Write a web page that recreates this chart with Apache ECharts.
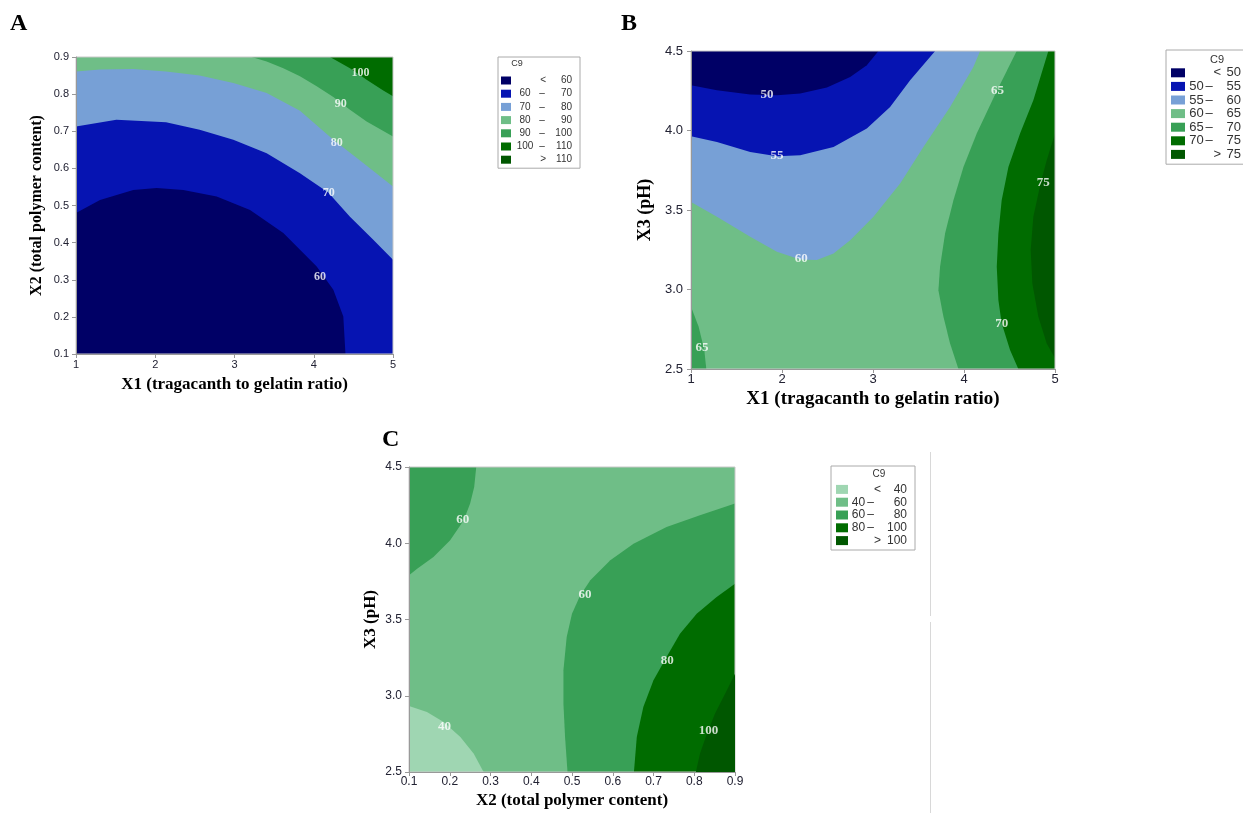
<!DOCTYPE html>
<html><head><meta charset="utf-8">
<script src="https://cdn.jsdelivr.net/npm/echarts/dist/echarts.min.js"></script>
<style>html,body{margin:0;padding:0;background:#fff}#c{width:1243px;height:813px}</style>
</head><body><div id="c"></div>
<script>
// ---------------- DATA ----------------
// Panel A : X1 vs X2
const A_X_RANGE = [1, 5], A_X_STEP = 1;
const A_Y_RANGE = [0.1, 0.9], A_Y_STEP = 0.1;
const A_LEVELS = ['< 60', '60 – 70', '70 – 80', '80 – 90', '90 – 100', '100 – 110', '> 110'];
const A_B60 = [[1,0.48],[1.303,0.515],[1.723,0.542],[2.018,0.547],[2.354,0.542],[2.775,0.524],[3.196,0.488],[3.616,0.426],[4.037,0.336],[4.247,0.273],[4.373,0.201],[4.40,0.1]];
const A_B70 = [[1,0.713],[1.51,0.731],[2.136,0.724],[2.56,0.704],[2.985,0.677],[3.406,0.641],[3.826,0.587],[4.183,0.535],[4.457,0.47],[4.751,0.408],[5,0.354]];
const A_B80 = [[1,0.861],[1.303,0.866],[1.723,0.868],[2.136,0.861],[2.56,0.85],[2.985,0.83],[3.406,0.803],[3.826,0.755],[4.247,0.677],[4.58,0.622],[5,0.551]];
const A_B90 = [[3.216,0.9],[3.406,0.888],[3.616,0.87],[3.826,0.848],[4.037,0.821],[4.247,0.792],[4.457,0.758],[4.667,0.726],[5,0.686]];
const A_B100 = [[4.205,0.9],[4.457,0.87],[4.667,0.839],[4.877,0.81],[5,0.794]];
const A_LABELS = [[4.59,0.857,100],[4.34,0.773,90],[4.29,0.668,80],[4.19,0.535,70],[4.08,0.309,60]];

// Panel B : X1 vs X3
const B_X_RANGE = [1, 5], B_X_STEP = 1;
const B_Y_RANGE = [2.5, 4.5], B_Y_STEP = 0.5;
const B_LEVELS = ['< 50', '50 – 55', '55 – 60', '60 – 65', '65 – 70', '70 – 75', '> 75'];
const B_B50 = [[1,4.284],[1.285,4.253],[1.651,4.226],[1.944,4.221],[2.2,4.232],[2.493,4.27],[2.749,4.337],[2.932,4.41],[3.06,4.5]];
const B_B55 = [[1,3.964],[1.285,3.928],[1.651,3.865],[1.944,3.838],[2.2,3.844],[2.566,3.897],[2.932,4.012],[3.188,4.148],[3.408,4.316],[3.683,4.5]];
const B_B60 = [[1,3.551],[1.285,3.457],[1.651,3.331],[1.944,3.237],[2.2,3.189],[2.383,3.185],[2.566,3.227],[2.749,3.31],[3.005,3.457],[3.298,3.666],[3.554,3.897],[3.847,4.148],[4.103,4.4],[4.177,4.5]];
const B_B65R = [[4.579,4.5],[4.36,4.249],[4.14,3.981],[3.994,3.771],[3.884,3.562],[3.792,3.352],[3.737,3.143],[3.719,2.996],[3.774,2.829],[3.847,2.661],[3.939,2.5]];
const B_B70 = [[4.927,4.5],[4.762,4.19],[4.616,3.981],[4.488,3.771],[4.414,3.562],[4.378,3.352],[4.36,3.143],[4.378,2.933],[4.414,2.787],[4.506,2.619],[4.597,2.5]];
const B_B75 = [[5,3.981],[4.909,3.813],[4.843,3.671],[4.762,3.457],[4.733,3.248],[4.751,3.038],[4.817,2.829],[4.909,2.661],[5,2.567]];
const B_B65L = [[1,2.892],[1.084,2.766],[1.146,2.619],[1.168,2.5]];
const B_LABELS = [[1.834,4.226,50],[1.944,3.84,55],[2.211,3.195,60],[4.367,4.249,65],[4.87,3.671,75],[4.414,2.783,70],[1.121,2.634,65]];

// Panel C : X2 vs X3
const C_X_RANGE = [0.1, 0.9], C_X_STEP = 0.1;
const C_Y_RANGE = [2.5, 4.5], C_Y_STEP = 0.5;
const C_LEVELS = ['< 40', '40 – 60', '60 – 80', '80 – 100', '> 100'];
const C_BTL = [[0.265,4.5],[0.26,4.369],[0.25,4.26],[0.234,4.15],[0.201,4.019],[0.16,3.91],[0.12,3.833],[0.1,3.79]];
const C_BBL = [[0.1,2.933],[0.144,2.893],[0.185,2.828],[0.226,2.73],[0.259,2.62],[0.283,2.5]];
const C_B60 = [[0.9,4.26],[0.814,4.183],[0.732,4.107],[0.651,3.997],[0.594,3.888],[0.545,3.757],[0.52,3.658],[0.5,3.538],[0.487,3.385],[0.479,3.167],[0.479,2.948],[0.483,2.73],[0.489,2.5]];
const C_B80 = [[0.9,3.735],[0.855,3.648],[0.806,3.538],[0.765,3.407],[0.732,3.254],[0.7,3.101],[0.675,2.926],[0.659,2.73],[0.652,2.5]];
const C_B100 = [[0.9,3.145],[0.876,3.014],[0.851,2.883],[0.831,2.751],[0.814,2.62],[0.804,2.5]];
const C_LABELS = [[0.232,4.155,60],[0.532,3.665,60],[0.734,3.228,80],[0.187,2.795,40],[0.835,2.773,100]];

// ---------------- STYLE ----------------
const COL = {
  navy: '#000066', blue: '#0614b2', lblue: '#77a0d6', lgreen: '#6fbe87',
  mgreen: '#38a056', dgreen: '#006c00', ddgreen: '#005700', pale: '#9fd6b2'
};
const SANS = '"Liberation Sans", Arial, sans-serif';
const SERIF = '"Liberation Serif", "Times New Roman", serif';

function rect(xr, yr) { return [[xr[0], yr[0]], [xr[1], yr[0]], [xr[1], yr[1]], [xr[0], yr[1]]]; }

let zc = 2;
function polySeries(name, color, polys, gi) {
  return {
    type: 'custom', name, xAxisIndex: gi, yAxisIndex: gi, z: zc++,
    clip: true, silent: true, animation: false,
    itemStyle: { color },
    encode: { x: 0, y: 1 },
    dimensions: ['x', 'y', 'poly'],
    data: polys.flatMap((pts, k) => pts.map(p => [p[0], p[1], k])),
    renderItem: (params, api) => {
      const i = params.dataIndexInside;
      const id = api.value(2, i);
      if (i > 0 && api.value(2, i - 1) === id) return null;
      const points = [];
      for (let j = i; j < params.dataInsideLength && api.value(2, j) === id; j++) {
        points.push(api.coord([api.value(0, j), api.value(1, j)]));
      }
      return { type: 'polygon', shape: { points }, style: { fill: color } };
    }
  };
}

function labelSeries(data, gi, size) {
  return {
    type: 'scatter', xAxisIndex: gi, yAxisIndex: gi, z: 40, silent: true,
    symbolSize: 0, data,
    label: {
      show: true, position: 'inside', formatter: p => String(p.value[2]),
      color: '#fff', fontFamily: SERIF, fontWeight: 'bold', fontSize: size
    }
  };
}

const series = [
  // A
  polySeries(A_LEVELS[0], COL.navy, [rect(A_X_RANGE, A_Y_RANGE)], 0),
  polySeries(A_LEVELS[1], COL.blue, [[...A_B60, [A_X_RANGE[1], A_Y_RANGE[0]], [A_X_RANGE[1], A_Y_RANGE[1]], [A_X_RANGE[0], A_Y_RANGE[1]]]], 0),
  polySeries(A_LEVELS[2], COL.lblue, [[...A_B70, [A_X_RANGE[1], A_Y_RANGE[1]], [A_X_RANGE[0], A_Y_RANGE[1]]]], 0),
  polySeries(A_LEVELS[3], COL.lgreen, [[...A_B80, [A_X_RANGE[1], A_Y_RANGE[1]], [A_X_RANGE[0], A_Y_RANGE[1]]]], 0),
  polySeries(A_LEVELS[4], COL.mgreen, [[...A_B90, [A_X_RANGE[1], A_Y_RANGE[1]]]], 0),
  polySeries(A_LEVELS[5], COL.dgreen, [[...A_B100, [A_X_RANGE[1], A_Y_RANGE[1]]]], 0),
  polySeries(A_LEVELS[6], COL.ddgreen, [], 0),
  labelSeries(A_LABELS, 0, 12),
  // B
  polySeries(B_LEVELS[3], COL.lgreen, [rect(B_X_RANGE, B_Y_RANGE)], 1),
  polySeries(B_LEVELS[2], COL.lblue, [[[B_X_RANGE[0], B_Y_RANGE[1]], ...B_B60]], 1),
  polySeries(B_LEVELS[1], COL.blue, [[[B_X_RANGE[0], B_Y_RANGE[1]], ...B_B55]], 1),
  polySeries(B_LEVELS[0], COL.navy, [[[B_X_RANGE[0], B_Y_RANGE[1]], ...B_B50]], 1),
  polySeries(B_LEVELS[4], COL.mgreen, [
    [...B_B65R, [B_X_RANGE[1], B_Y_RANGE[0]], [B_X_RANGE[1], B_Y_RANGE[1]]],
    [[B_X_RANGE[0], B_Y_RANGE[0]], ...B_B65L]
  ], 1),
  polySeries(B_LEVELS[5], COL.dgreen, [[...B_B70, [B_X_RANGE[1], B_Y_RANGE[0]], [B_X_RANGE[1], B_Y_RANGE[1]]]], 1),
  polySeries(B_LEVELS[6], COL.ddgreen, [[...B_B75]], 1),
  labelSeries(B_LABELS, 1, 13),
  // C
  polySeries(C_LEVELS[1], COL.lgreen, [rect(C_X_RANGE, C_Y_RANGE)], 2),
  polySeries(C_LEVELS[0], COL.pale, [[[C_X_RANGE[0], C_Y_RANGE[0]], ...C_BBL]], 2),
  polySeries(C_LEVELS[2], COL.mgreen, [
    [[C_X_RANGE[0], C_Y_RANGE[1]], ...C_BTL],
    [...C_B60, [C_X_RANGE[1], C_Y_RANGE[0]]]
  ], 2),
  polySeries(C_LEVELS[3], COL.dgreen, [[...C_B80, [C_X_RANGE[1], C_Y_RANGE[0]]]], 2),
  polySeries(C_LEVELS[4], COL.ddgreen, [[...C_B100, [C_X_RANGE[1], C_Y_RANGE[0]]]], 2),
  labelSeries(C_LABELS, 2, 13)
];

function legendFmt(name) {
  const m = name.match(/^([<>])\s*(\S+)$/);
  if (m) return `{a| }{s|${m[1]}}{d|${m[2]}}`;
  const parts = name.split(' – ');
  return `{a|${parts[0]}}{b|–}{c|${parts[1]}}`;
}
function legend(names, left, top, pad, iw, ih, gap, fs, lh, w) {
  const base = { fontSize: fs, lineHeight: lh, fontFamily: SANS, color: '#333' };
  return {
    data: names, orient: 'vertical', left, top, padding: pad,
    itemWidth: iw, itemHeight: ih, itemGap: gap, icon: 'rect',
    borderColor: '#aaa', borderWidth: 1, selectedMode: false,
    formatter: legendFmt,
    textStyle: Object.assign({}, base, {
      rich: {
        a: Object.assign({}, base, { width: w[0], align: 'right' }),
        b: Object.assign({}, base, { width: w[1], align: 'center' }),
        c: Object.assign({}, base, { width: w[2], align: 'right' }),
        s: Object.assign({}, base, { width: w[3], align: 'right' }),
        d: Object.assign({}, base, { width: w[4], align: 'right' })
      }
    })
  };
}

function xAxis(gi, range, step, name, lblSize, nameSize, nameGap, margin, dec) {
  return {
    type: 'value', gridIndex: gi, min: range[0], max: range[1], interval: step, z: 30,
    name, nameLocation: 'middle', nameGap, nameMoveOverlap: false,
    nameTextStyle: { fontFamily: SERIF, fontWeight: 'bold', fontSize: nameSize, color: '#000' },
    axisLine: { show: true, onZero: false, lineStyle: { color: '#999', width: 1 } },
    axisTick: { show: true, length: 4, lineStyle: { color: '#999' } },
    axisLabel: { fontSize: lblSize, fontFamily: SANS, color: '#222233', margin, formatter: v => v.toFixed(dec) },
    splitLine: { show: false }
  };
}
function yAxis(gi, range, step, name, lblSize, nameSize, nameGap, margin) {
  return {
    type: 'value', gridIndex: gi, min: range[0], max: range[1], interval: step, z: 30,
    name, nameLocation: 'middle', nameGap, nameMoveOverlap: false,
    nameTextStyle: { fontFamily: SERIF, fontWeight: 'bold', fontSize: nameSize, color: '#000' },
    axisLine: { show: true, onZero: false, lineStyle: { color: '#999', width: 1 } },
    axisTick: { show: true, length: 4, lineStyle: { color: '#999' } },
    axisLabel: { fontSize: lblSize, fontFamily: SANS, color: '#222233', margin, formatter: v => v.toFixed(1) },
    splitLine: { show: false }
  };
}

const gridBase = { show: true, z: 20, borderColor: '#c8c8c8', borderWidth: 1, backgroundColor: 'transparent', containLabel: false, outerBoundsMode: 'none' };

const option = {
  animation: false,
  backgroundColor: '#fff',
  grid: [
    Object.assign({ left: 76, top: 57, width: 317, height: 297 }, gridBase),
    Object.assign({ left: 691, top: 51, width: 364, height: 318 }, gridBase),
    Object.assign({ left: 409, top: 467, width: 326, height: 305 }, gridBase)
  ],
  xAxis: [
    xAxis(0, A_X_RANGE, A_X_STEP, 'X1 (tragacanth to gelatin ratio)', 11, 17, 22, 5, 0),
    xAxis(1, B_X_RANGE, B_X_STEP, 'X1 (tragacanth to gelatin ratio)', 13, 19, 21, 4, 0),
    xAxis(2, C_X_RANGE, C_X_STEP, 'X2 (total polymer content)', 12, 17, 20, 4, 1)
  ],
  yAxis: [
    yAxis(0, A_Y_RANGE, A_Y_STEP, 'X2 (total polymer content)', 11, 16, 31, 7),
    yAxis(1, B_Y_RANGE, B_Y_STEP, 'X3 (pH)', 13, 18, 37, 8),
    yAxis(2, C_Y_RANGE, C_Y_STEP, 'X3 (pH)', 12, 17, 30, 7)
  ],
  legend: [
    legend(A_LEVELS, 498, 57, [18, 8, 3, 3], 10, 8, 2.2, 10, 11, [18, 16, 22, 12, 26]),
    legend(B_LEVELS, 1166, 50, [16, 8, 3, 5], 14, 9, 0, 13, 13.6, [13, 12, 26, 18, 20]),
    legend(C_LEVELS, 831, 466, [17, 8, 3, 5], 12, 9, 0, 12, 12.8, [11, 13, 30, 17, 26])
  ],
  graphic: [
    { type: 'text', left: 10, top: 12, style: { text: 'A', font: 'bold 24px ' + SERIF, fill: '#000' } },
    { type: 'text', left: 621, top: 12, style: { text: 'B', font: 'bold 24px ' + SERIF, fill: '#000' } },
    { type: 'text', left: 382, top: 428, style: { text: 'C', font: 'bold 24px ' + SERIF, fill: '#000' } },
    { type: 'text', x: 517, y: 64, style: { text: 'C9', font: '9px ' + SANS, fill: '#333', align: 'center', verticalAlign: 'middle' } },
    { type: 'text', x: 1217, y: 60, style: { text: 'C9', font: '11px ' + SANS, fill: '#333', align: 'center', verticalAlign: 'middle' } },
    { type: 'text', x: 879, y: 474, style: { text: 'C9', font: '10px ' + SANS, fill: '#333', align: 'center', verticalAlign: 'middle' } },
    { type: 'line', shape: { x1: 930.5, y1: 452, x2: 930.5, y2: 616 }, style: { stroke: '#d8d8d8', lineWidth: 1 } },
    { type: 'line', shape: { x1: 930.5, y1: 622, x2: 930.5, y2: 813 }, style: { stroke: '#d8d8d8', lineWidth: 1 } }
  ],
  series
};

const chart = echarts.init(document.getElementById('c'), null, { renderer: 'canvas' });
chart.setOption(option);
</script>
</body></html>
